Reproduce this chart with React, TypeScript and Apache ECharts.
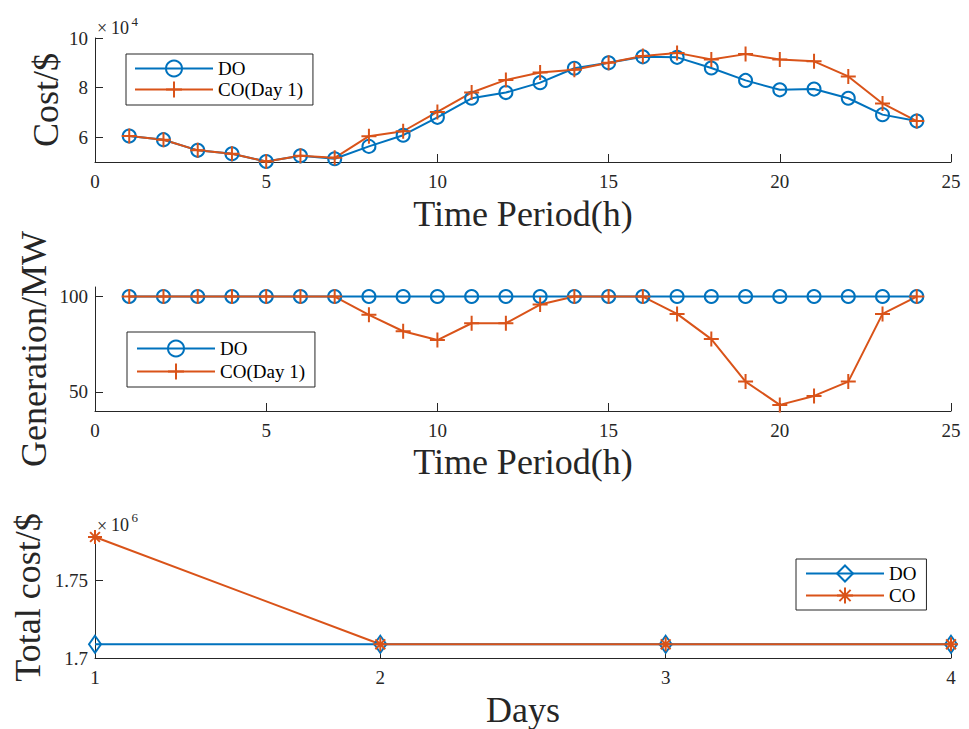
import React, { useEffect, useRef } from 'react';
import * as echarts from 'echarts';

// ---------- data ----------
const hours = [1, 2, 3, 4, 5, 6, 7, 8, 9, 10, 11, 12, 13, 14, 15, 16, 17, 18, 19, 20, 21, 22, 23, 24];
const costDO = [60500, 59000, 54700, 53300, 50200, 52500, 51300, 56300, 60800, 68000, 75700, 78000, 82000, 87800, 90000, 92400, 92200, 87900, 82900, 79100, 79400, 75700, 69100, 66500];
const costCO = [60500, 59000, 54700, 53300, 50200, 52500, 51700, 60400, 62400, 70200, 78000, 83100, 86100, 87200, 90000, 92700, 94000, 91300, 93500, 91300, 90600, 84500, 73600, 66500];
const genDO = [100, 100, 100, 100, 100, 100, 100, 100, 100, 100, 100, 100, 100, 100, 100, 100, 100, 100, 100, 100, 100, 100, 100, 100];
const genCO = [100, 100, 100, 100, 100, 100, 100, 90.4, 81.8, 77.2, 86.0, 86.0, 95.8, 100, 100, 100, 90.9, 77.7, 55.4, 43.2, 47.9, 55.4, 90.9, 100];
const days = [1, 2, 3, 4];
const totalDO = [1708800, 1708800, 1708800, 1708800];
const totalCO = [1777600, 1708800, 1708800, 1708800];
const costTicks = [60000, 80000, 100000];
const genTicks = [50, 100];
const totalTicks = [1700000, 1750000];

const BLUE = '#0072BD';
const ORANGE = '#D95319';
const AX = '#262626';
const FONT = 'Liberation Serif';
const PLUS = 'path://M10,0 L10,20 M0,10 L20,10';
const STAR = 'path://M10,0 L10,20 M0,10 L20,10 M3,3 L17,17 M17,3 L3,17';

const pair = (xs: number[], ys: number[]) => xs.map((x, i) => [x, ys[i]]);

const nameStyle = { fontSize: 36, fontFamily: FONT, color: AX };

function xAxis(gridIndex: number, min: number, max: number, interval: number, name: string, nameGap: number) {
  return {
    type: 'value', gridIndex, min, max, interval, name, nameLocation: 'middle', nameGap,
    nameMoveOverlap: false,
    nameTextStyle: nameStyle,
    axisLine: { show: true, lineStyle: { color: AX, width: 1 } },
    axisTick: { show: true, inside: true, length: 8, lineStyle: { color: AX } },
    axisLabel: { fontSize: 19, fontFamily: FONT, color: AX, margin: 10 },
    splitLine: { show: false },
  };
}

function yAxis(gridIndex: number, min: number, max: number, ticks: number[], fmt: (v: number) => string, name: string, nameGap: number) {
  return {
    type: 'value', gridIndex, min, max, name, nameLocation: 'middle', nameGap,
    nameMoveOverlap: false,
    nameTextStyle: nameStyle,
    axisLine: { show: true, lineStyle: { color: AX, width: 1 } },
    axisTick: { show: true, inside: true, length: 8, customValues: ticks, lineStyle: { color: AX } },
    axisLabel: { fontSize: 19, fontFamily: FONT, color: AX, margin: 7, customValues: ticks, formatter: fmt },
    splitLine: { show: false },
  };
}

function lineSeries(name: string, xi: number, data: number[][], color: string, symbol: string, symbolSize: any) {
  return {
    type: 'line', name, xAxisIndex: xi, yAxisIndex: xi, data, symbol, symbolSize,
    clip: false,
    lineStyle: { color, width: 2 },
    itemStyle: { color: 'rgba(0,0,0,0)', borderColor: color, borderWidth: 2 },
    emphasis: { disabled: true },
  };
}

function legend(names: string[], left: number, top: number, padding: number[], itemGap: number, fmt?: (n: string) => string) {
  return {
    data: names, left, top, orient: 'vertical', padding, itemGap,
    itemWidth: 78, itemHeight: 20, selectedMode: false,
    borderColor: AX, borderWidth: 1, backgroundColor: '#fff',
    textStyle: { fontSize: 19, fontFamily: FONT, color: '#000' },
    formatter: fmt,
  };
}

function txt(text: string, x: number, y: number, size: number) {
  return { type: 'text', x, y, style: { text, fontSize: size, fontFamily: FONT, fill: AX, align: 'left', verticalAlign: 'middle' } };
}

export default function App() {
  const ref = useRef<HTMLDivElement>(null);
  useEffect(() => {
    if (!ref.current) return;
    const chart = echarts.init(ref.current, undefined, { renderer: 'svg' });
    chart.setOption({
      animation: false,
      backgroundColor: '#fff',
      grid: [
        { left: 95, top: 38, width: 856, height: 124 },
        { left: 95, top: 287, width: 856, height: 124 },
        { left: 95, top: 537, width: 856, height: 124 },
      ],
      xAxis: [
        xAxis(0, 0, 25, 5, 'Time Period(h)', 34),
        xAxis(1, 0, 25, 5, 'Time Period(h)', 33),
        xAxis(2, 1, 4, 1, 'Days', 34),
      ],
      yAxis: [
        yAxis(0, 50000, 100000, costTicks, (v: number) => String(v / 10000), 'Cost/$', 31),
        yAxis(1, 40, 105, genTicks, (v: number) => String(v), 'Generation/MW', 43),
        yAxis(2, 1700000, 1777600, totalTicks, (v: number) => String(v / 1000000), 'Total cost/$', 49),
      ],
      legend: [
        legend(['DO', 'CO(Day 1)'], 126, 54, [5, 10, 6, 8], 2),
        legend(['DO', 'CO(Day 1)'], 127, 332, [7, 10, 6, 9], 4),
        legend(['DO (total)', 'CO (total)'], 796, 559, [5, 10, 5, 9], 3,
          (n: string) => (n === 'DO (total)' ? 'DO' : 'CO')),
      ],
      series: [
        lineSeries('DO', 0, pair(hours, costDO), BLUE, 'circle', 13),
        lineSeries('CO(Day 1)', 0, pair(hours, costCO), ORANGE, PLUS, 15),
        lineSeries('DO', 1, pair(hours, genDO), BLUE, 'circle', 13),
        lineSeries('CO(Day 1)', 1, pair(hours, genCO), ORANGE, PLUS, 15),
        lineSeries('DO (total)', 2, pair(days, totalDO), BLUE, 'diamond', [12, 17]),
        lineSeries('CO (total)', 2, pair(days, totalCO), ORANGE, STAR, 14),
      ],
      graphic: [
        txt('×', 97, 28, 18),
        txt('10', 111, 27.5, 18),
        txt('4', 131.5, 21, 13),
        txt('×', 97, 525.5, 18),
        txt('10', 111, 525, 18),
        txt('6', 131.5, 517.5, 13),
      ],
    });
    return () => chart.dispose();
  }, []);
  return <div ref={ref} style={{ position: 'absolute', left: 0, top: 0, width: 969, height: 729 }} />;
}
